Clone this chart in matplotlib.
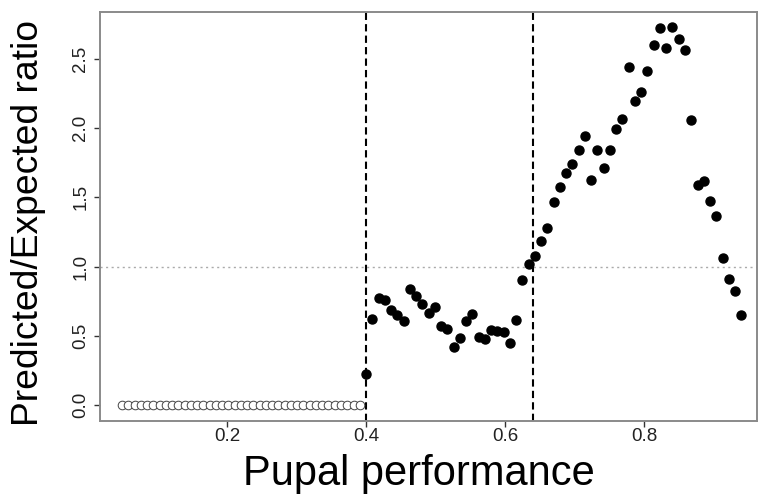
import matplotlib
matplotlib.use("Agg")
import matplotlib.pyplot as plt

plt.rcParams['font.family'] = ['Liberation Sans', 'DejaVu Sans']

# pupal performance grid, values below the 0.4 threshold (ratio = 0)
x_low = [0.049, 0.058, 0.067, 0.076, 0.085, 0.094, 0.103, 0.112, 0.121, 0.130,
         0.139, 0.148, 0.157, 0.166, 0.175, 0.184, 0.193, 0.202, 0.211, 0.220,
         0.229, 0.238, 0.247, 0.256, 0.265, 0.274, 0.283, 0.292, 0.301, 0.310,
         0.319, 0.328, 0.337, 0.346, 0.355, 0.364, 0.373, 0.382, 0.391]
y_low = [0.0] * len(x_low)

# above the threshold
x_high = [0.400, 0.409, 0.418, 0.427, 0.436, 0.445, 0.454, 0.463, 0.472, 0.481,
          0.490, 0.499, 0.508, 0.517, 0.526, 0.535, 0.544, 0.553, 0.562, 0.571,
          0.580, 0.589, 0.598, 0.607, 0.616, 0.625, 0.634, 0.643, 0.652, 0.661,
          0.670, 0.679, 0.688, 0.697, 0.706, 0.715, 0.724, 0.733, 0.742, 0.751,
          0.760, 0.769, 0.778, 0.787, 0.796, 0.805, 0.814, 0.823, 0.832, 0.841,
          0.850, 0.859, 0.868, 0.877, 0.886, 0.895, 0.904, 0.913, 0.922, 0.931,
          0.940]
y_high = [0.224, 0.623, 0.770, 0.756, 0.684, 0.648, 0.606, 0.840, 0.789, 0.729,
          0.666, 0.708, 0.573, 0.549, 0.421, 0.486, 0.609, 0.657, 0.491, 0.479,
          0.544, 0.536, 0.525, 0.445, 0.614, 0.900, 1.020, 1.078, 1.182, 1.278,
          1.468, 1.572, 1.675, 1.740, 1.845, 1.944, 1.625, 1.845, 1.713, 1.845,
          1.991, 2.065, 2.443, 2.193, 2.258, 2.409, 2.599, 2.720, 2.580, 2.727,
          2.643, 2.561, 2.060, 1.588, 1.617, 1.475, 1.365, 1.064, 0.908, 0.821,
          0.648]

thresholds = [0.40, 0.64]
xticks = [0.2, 0.4, 0.6, 0.8]
yticks = [0.0, 0.5, 1.0, 1.5, 2.0, 2.5]

fig = plt.figure(figsize=(7.58, 4.97), dpi=100)
ax = fig.add_axes([99.5 / 758, 76 / 497, (757 - 99.5) / 758, (421 - 12) / 497])

ax.axhline(1.0, color='#aaaaaa', lw=1.0, ls=(0, (1.5, 2.5)), zorder=1)
for t in thresholds:
    ax.axvline(t, color='black', lw=1.5, dashes=(3.5, 2.0), zorder=1)

ax.plot(x_low, y_low, 'o', mfc='white', mec='#444444', mew=0.7, ms=6.2, zorder=3)
ax.plot(x_high, y_high, 'o', color='black', ms=6.5, zorder=3)

ax.set_xlim(0.0165, 0.9626)
ax.set_ylim(-0.1155, 2.838)
ax.set_xticks(xticks)
ax.set_yticks(yticks)
ax.set_xticklabels([f'{v:.1f}' for v in xticks])
ax.set_yticklabels([f'{v:.1f}' for v in yticks], rotation=90, va='center')
ax.tick_params(labelsize=13.5, length=4.3, width=1, color='#333333', labelcolor='#222222')
ax.tick_params(axis='x', pad=1)
ax.tick_params(axis='y', pad=3)
for s in ax.spines.values():
    s.set_color('#8a8a8a')
    s.set_linewidth(1.4)

fig.text(419 / 758, 1 - 473.5 / 497, 'Pupal performance', fontsize=30,
         ha='center', va='center')
fig.text(29 / 758, 1 - 222.5 / 497, 'Predicted/Expected ratio', fontsize=26.8,
         rotation=90, ha='center', va='center')

fig.savefig('out.png', dpi=100)
